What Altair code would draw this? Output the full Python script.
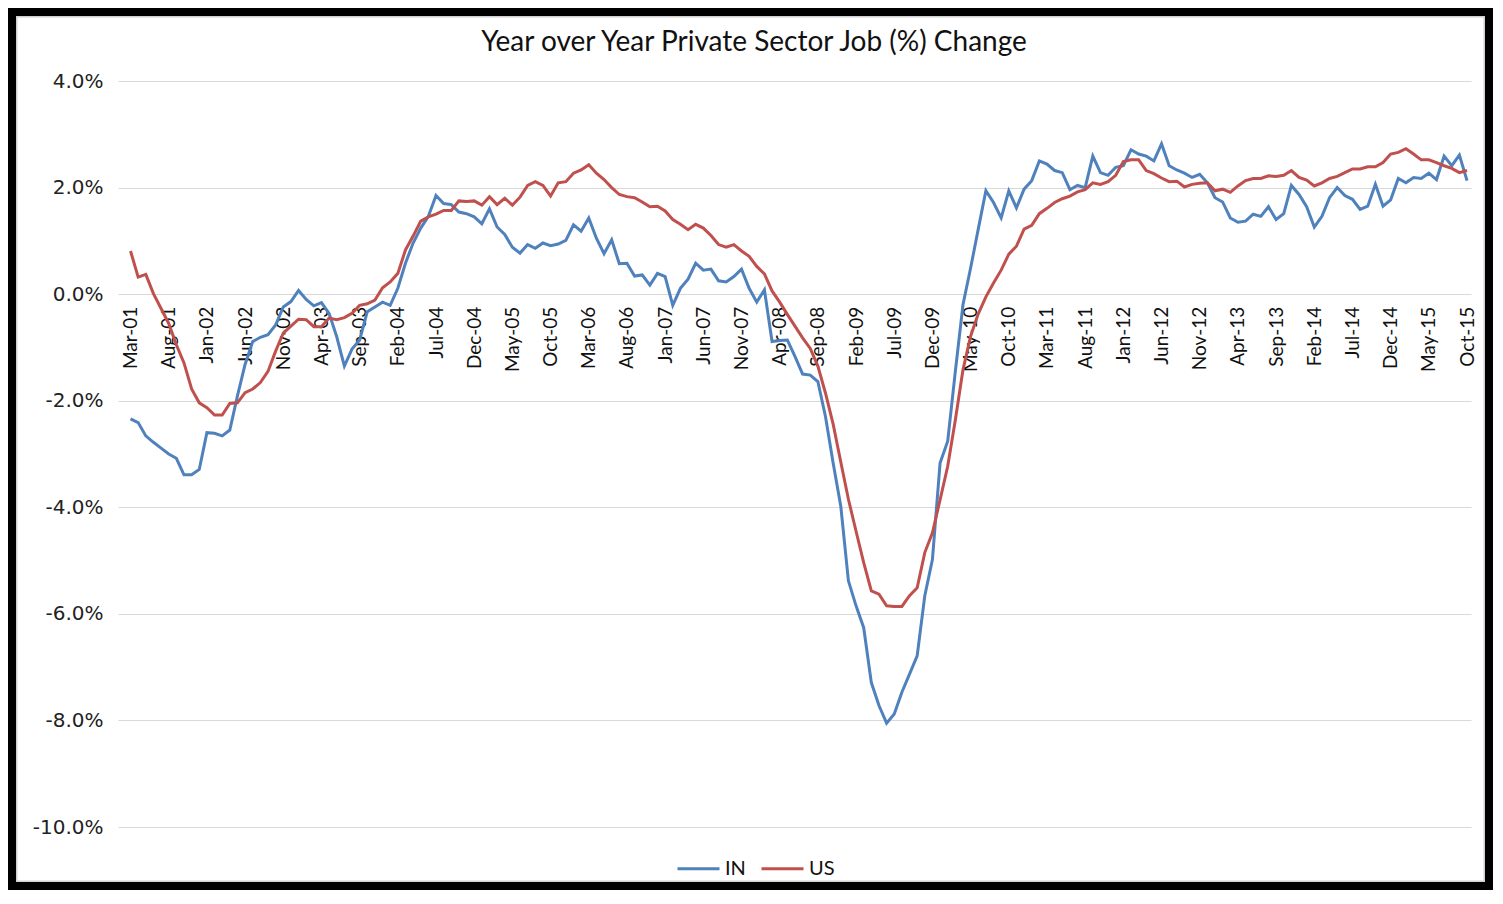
import altair as alt
import pandas as pd

TITLE = "Year over Year Private Sector Job (%) Change"
SERIES = ["IN", "US"]
COLORS = ["#4f81bd", "#c0504d"]

TICK_LABELS = ["Mar-01", "Aug-01", "Jan-02", "Jun-02", "Nov-02", "Apr-03", "Sep-03", "Feb-04",
               "Jul-04", "Dec-04", "May-05", "Oct-05", "Mar-06", "Aug-06", "Jan-07", "Jun-07",
               "Nov-07", "Apr-08", "Sep-08", "Feb-09", "Jul-09", "Dec-09", "May-10", "Oct-10",
               "Mar-11", "Aug-11", "Jan-12", "Jun-12", "Nov-12", "Apr-13", "Sep-13", "Feb-14",
               "Jul-14", "Dec-14", "May-15", "Oct-15"]
Y_TICKS = [-10, -8, -6, -4, -2, 0, 2, 4]

IN = [-2.34, -2.41, -2.66, -2.78, -2.89, -3.00, -3.08, -3.39, -3.39, -3.29,
      -2.60, -2.61, -2.66, -2.55, -1.91, -1.32, -0.89, -0.81, -0.76, -0.58,
      -0.24, -0.14, 0.07, -0.10, -0.22, -0.16, -0.36, -0.80, -1.35, -1.03,
      -0.86, -0.33, -0.24, -0.15, -0.21, 0.11, 0.58, 0.96, 1.24, 1.46,
      1.85, 1.70, 1.68, 1.54, 1.51, 1.45, 1.32, 1.60, 1.26, 1.12,
      0.88, 0.77, 0.93, 0.86, 0.96, 0.91, 0.94, 1.01, 1.30, 1.18,
      1.43, 1.05, 0.76, 1.02, 0.57, 0.58, 0.34, 0.36, 0.17, 0.39,
      0.33, -0.21, 0.11, 0.28, 0.58, 0.45, 0.47, 0.25, 0.23, 0.33,
      0.47, 0.11, -0.15, 0.08, -0.89, -0.87, -0.86, -1.17, -1.50, -1.52,
      -1.64, -2.30, -3.17, -3.98, -5.38, -5.85, -6.26, -7.29, -7.72, -8.05,
      -7.88, -7.47, -7.13, -6.79, -5.66, -4.98, -3.17, -2.76, -1.45, -0.20,
      0.49, 1.22, 1.94, 1.72, 1.43, 1.94, 1.62, 1.97, 2.13, 2.50,
      2.44, 2.32, 2.28, 1.96, 2.04, 2.00, 2.59, 2.28, 2.23, 2.38,
      2.41, 2.71, 2.63, 2.59, 2.50, 2.82, 2.41, 2.33, 2.27, 2.19,
      2.25, 2.09, 1.81, 1.73, 1.43, 1.35, 1.37, 1.50, 1.46, 1.64,
      1.40, 1.51, 2.04, 1.87, 1.64, 1.26, 1.46, 1.81, 2.00, 1.85,
      1.78, 1.59, 1.65, 2.06, 1.65, 1.77, 2.17, 2.09, 2.19, 2.17,
      2.27, 2.15, 2.59, 2.41, 2.61, 2.13]

US = [0.81, 0.32, 0.37, 0.01, -0.27, -0.55, -0.95, -1.29, -1.78, -2.04,
      -2.13, -2.27, -2.27, -2.05, -2.04, -1.85, -1.78, -1.66, -1.45, -1.07,
      -0.73, -0.60, -0.47, -0.48, -0.61, -0.61, -0.45, -0.48, -0.44, -0.36,
      -0.21, -0.18, -0.11, 0.12, 0.23, 0.39, 0.83, 1.09, 1.37, 1.45,
      1.50, 1.57, 1.57, 1.75, 1.74, 1.75, 1.67, 1.83, 1.68, 1.80,
      1.67, 1.82, 2.04, 2.11, 2.04, 1.84, 2.09, 2.11, 2.27, 2.33,
      2.43, 2.27, 2.15, 2.00, 1.87, 1.83, 1.81, 1.73, 1.64, 1.65,
      1.56, 1.40, 1.31, 1.21, 1.31, 1.24, 1.10, 0.93, 0.88, 0.93,
      0.81, 0.71, 0.52, 0.38, 0.06, -0.15, -0.38, -0.60, -0.82, -1.02,
      -1.35, -1.86, -2.44, -3.15, -3.85, -4.45, -5.04, -5.57, -5.63, -5.85,
      -5.86, -5.86, -5.66, -5.51, -4.85, -4.48, -3.86, -3.23, -2.36, -1.42,
      -0.79, -0.37, -0.05, 0.21, 0.45, 0.75, 0.90, 1.22, 1.29, 1.51,
      1.61, 1.72, 1.79, 1.84, 1.92, 1.96, 2.09, 2.06, 2.11, 2.23,
      2.49, 2.52, 2.52, 2.32, 2.26, 2.18, 2.11, 2.12, 2.01, 2.06,
      2.08, 2.09, 1.94, 1.97, 1.91, 2.03, 2.13, 2.17, 2.17, 2.22,
      2.21, 2.23, 2.32, 2.19, 2.14, 2.03, 2.09, 2.17, 2.21, 2.28,
      2.35, 2.35, 2.39, 2.39, 2.47, 2.63, 2.66, 2.73, 2.63, 2.52,
      2.52, 2.47, 2.41, 2.36, 2.28, 2.32]

# ---- layout ----
W, H = 1353, 746
PAD = {"left": 110, "top": 73, "right": 22, "bottom": 63}
SVG_W = W + PAD["left"] + PAD["right"]
SVG_H = H + PAD["top"] + PAD["bottom"]

n = len(IN)
df = pd.DataFrame({
    "idx": list(range(n)) * 2,
    "value": IN + US,
    "series": ["IN"] * n + ["US"] * n,
})

y_min, y_max = Y_TICKS[0], Y_TICKS[-1]
zero_y = H * y_max / (y_max - y_min)
x_axis_offset = -(H - zero_y)

labels_js = "[" + ",".join("'" + s + "'" for s in TICK_LABELS) + "]"
step = 5

lines = alt.Chart(df).mark_line(strokeWidth=3).encode(
    x=alt.X("idx:Q",
            scale=alt.Scale(domain=[-1.64, 175.52], nice=False, zero=False),
            axis=alt.Axis(values=list(range(0, n, step)),
                          labelExpr=f"{labels_js}[round(datum.value/{step})]",
                          labelAngle=270, ticks=False, domain=False, grid=False,
                          offset=x_axis_offset, labelPadding=12,
                          labelFont="Lato", labelFontSize=19, labelColor="#111",
                          labelOverlap=False, labelFlush=False, title=None)),
    y=alt.Y("value:Q",
            scale=alt.Scale(domain=[y_min, y_max], nice=False),
            axis=alt.Axis(values=Y_TICKS,
                          labelExpr="(datum.value < 0 ? '-' : '') + format(abs(datum.value), '.1f') + '%'",
                          grid=True, gridColor="#d9d9d9", gridWidth=1,
                          domain=False, ticks=False, labelPadding=15,
                          labelFont="DejaVu Sans", labelFontSize=20, labelColor="#222",
                          title=None)),
    color=alt.Color("series:N",
                    scale=alt.Scale(domain=SERIES, range=COLORS),
                    legend=alt.Legend(orient="none", legendX=558, legendY=765,
                                      direction="horizontal", title=None,
                                      symbolType="stroke", symbolSize=1764,
                                      symbolStrokeWidth=3, labelFont="Lato",
                                      labelFontSize=20, labelColor="#111",
                                      labelOffset=4, columnPadding=9, padding=0)),
)

frame_df = pd.DataFrame({"k": [0]})
title_df = pd.DataFrame({"t": [TITLE]})

title = alt.Chart(title_df).mark_text(font="Lato", fontSize=28, color="#111",
                                      align="center", baseline="alphabetic").encode(
    text="t:N",
    x=alt.value(754 - 8 - PAD["left"]),
    y=alt.value(51 - 8 - PAD["top"]),
)

outer = alt.Chart(frame_df).mark_rect(fillOpacity=0, stroke="black", strokeWidth=8).encode(
    x=alt.value(4 - PAD["left"]), x2=alt.value(SVG_W - 4 - PAD["left"]),
    y=alt.value(4 - PAD["top"]), y2=alt.value(SVG_H - 4 - PAD["top"]),
)
inner = alt.Chart(frame_df).mark_rect(fillOpacity=0, stroke="#d0d0d0", strokeWidth=1.5).encode(
    x=alt.value(8.75 - PAD["left"]), x2=alt.value(SVG_W - 8.75 - PAD["left"]),
    y=alt.value(8.75 - PAD["top"]), y2=alt.value(SVG_H - 8.75 - PAD["top"]),
)

chart = alt.layer(lines, title, inner, outer).properties(
    width=W, height=H,
    padding=PAD,
    autosize=alt.AutoSizeParams(type="none"),
    background="white",
).configure_view(stroke=None)

chart.save("out.html", embed_options={"renderer": "svg", "actions": False})
